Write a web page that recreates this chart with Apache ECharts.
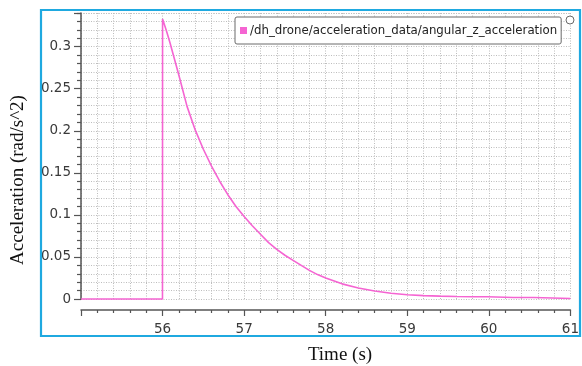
<!DOCTYPE html>
<html>
<head>
<meta charset="utf-8">
<script src="https://cdn.jsdelivr.net/npm/echarts@6/dist/echarts.min.js"></script>
<style>
  html, body { margin: 0; padding: 0; background: #fff; }
  #chart { width: 582px; height: 366px; }
</style>
</head>
<body>
<div id="chart"></div>
<script>
// Angular z acceleration of the drone over time
const seriesName = '/dh_drone/acceleration_data/angular_z_acceleration';
const times = [55.0, 55.999, 56.0, 56.05, 56.09, 56.2, 56.3, 56.4, 56.5, 56.6, 56.7, 56.8, 56.9,
  57.0, 57.1, 57.2, 57.3, 57.4, 57.5, 57.6, 57.7, 57.8, 57.9, 58.0, 58.2, 58.4, 58.6, 58.8,
  59.0, 59.2, 59.4, 59.6, 59.8, 59.98, 60.0, 60.3, 60.55, 60.57, 61.0];
const accel = [0, 0, 0.333, 0.318, 0.305, 0.266, 0.229, 0.201, 0.178, 0.158, 0.140, 0.124, 0.110,
  0.098, 0.087, 0.077, 0.067, 0.059, 0.052, 0.046, 0.040, 0.034, 0.029, 0.025, 0.018, 0.013, 0.0095, 0.0068,
  0.0050, 0.0040, 0.0034, 0.0029, 0.0026, 0.0026, 0.0019, 0.0018, 0.0017, 0.0007, 0.0006];
const yTicks = ['0', '0.05', '0.1', '0.15', '0.2', '0.25', '0.3'];
const xTicks = ['56', '57', '58', '59', '60', '61'];

const lineColor = '#f564d2';
const gridLine = { show: true, lineStyle: { color: '#bdbdbd', type: [1, 1.5], width: 1 } };

const chart = echarts.init(document.getElementById('chart'), null, { renderer: 'canvas' });
chart.setOption({
  animation: false,
  backgroundColor: '#ffffff',
  grid: { left: 81, right: 7, top: 13, bottom: 67, containLabel: false },
  legend: {
    left: 235, top: 17,
    padding: [7, 4, 7, 5],
    backgroundColor: '#ffffff',
    borderColor: '#6a6a6a', borderWidth: 1, borderRadius: 2,
    itemWidth: 7, itemHeight: 7, itemGap: 3,
    icon: 'rect',
    textStyle: { fontFamily: 'DejaVu Sans Condensed', fontSize: 13.1, color: '#222', padding: [0, 0, 0, -2] },
    data: [seriesName]
  },
  xAxis: {
    type: 'value', min: 55, max: 61, interval: 1,
    offset: 11,
    axisLine: { show: true, onZero: false, lineStyle: { color: '#555', width: 1.5 } },
    axisTick: { show: true, inside: false, length: 6, lineStyle: { color: '#555', width: 1.2 } },
    minorTick: { show: true, splitNumber: 5, length: 3, lineStyle: { color: '#555', width: 1.2 } },
    splitLine: gridLine,
    minorSplitLine: gridLine,
    axisLabel: {
      margin: 12, fontFamily: 'DejaVu Sans', fontSize: 13.5, color: '#3a3a3a',
      formatter: v => xTicks.includes(String(Math.round(v * 1000) / 1000)) ? String(Math.round(v)) : ''
    }
  },
  yAxis: {
    type: 'value', min: 0, max: 0.34, interval: 0.05,
    axisLine: { show: true, lineStyle: { color: '#555', width: 1.5 } },
    axisTick: { show: true, inside: false, length: 7, lineStyle: { color: '#555', width: 1.2 } },
    minorTick: { show: true, splitNumber: 5, length: 4, lineStyle: { color: '#555', width: 1.2 } },
    splitLine: gridLine,
    minorSplitLine: gridLine,
    axisLabel: {
      margin: 10, fontFamily: 'DejaVu Sans', fontSize: 13.5, color: '#3a3a3a', showMaxLabel: false,
      formatter: v => {
        const s = String(Math.round(v * 1000) / 1000);
        return yTicks.includes(s) ? s : '';
      }
    }
  },
  series: [{
    name: seriesName,
    type: 'line',
    data: times.map((t, i) => [t, accel[i]]),
    showSymbol: false,
    clip: false,
    lineStyle: { color: lineColor, width: 1.6 },
    itemStyle: { color: lineColor }
  }],
  graphic: [
    {
      type: 'rect', z: 100, silent: true,
      shape: { x: 41, y: 10, width: 539, height: 326 },
      style: { fill: 'none', stroke: '#1fa9e0', lineWidth: 2.2 }
    },
    {
      type: 'circle', z: 101, silent: true,
      shape: { cx: 570, cy: 20, r: 4 },
      style: { fill: '#ffffff', stroke: '#6a6a6a', lineWidth: 1 }
    },
    {
      type: 'text', z: 100, silent: true,
      x: 18, y: 180, rotation: Math.PI / 2,
      style: {
        text: 'Acceleration (rad/s^2)', fill: '#111',
        font: '19px "Liberation Serif"', align: 'center', verticalAlign: 'middle'
      }
    },
    {
      type: 'text', z: 100, silent: true,
      x: 340, y: 355,
      style: {
        text: 'Time (s)', fill: '#111',
        font: '19px "Liberation Serif"', align: 'center', verticalAlign: 'middle'
      }
    }
  ]
});
</script>
</body>
</html>
